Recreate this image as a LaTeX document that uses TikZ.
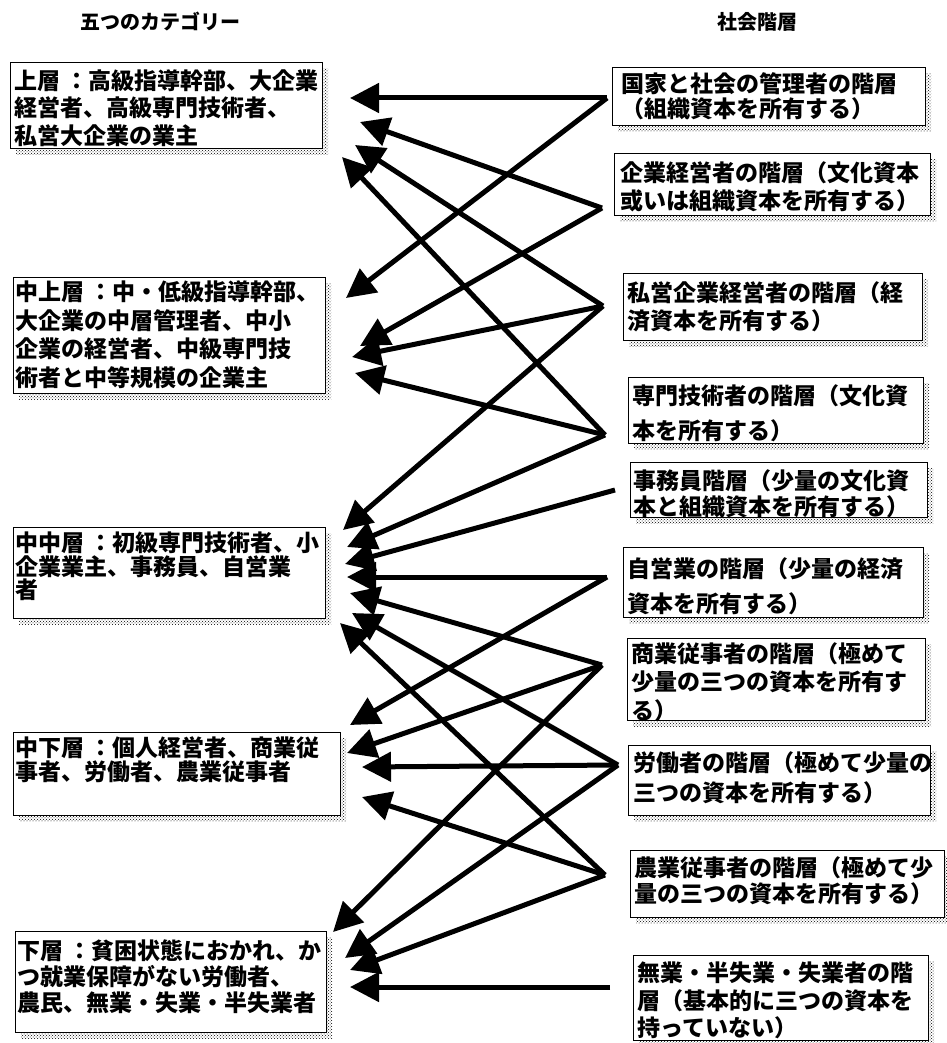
\documentclass[tikz,border=0pt]{standalone}
\usepackage{fontspec}
\setmainfont{Noto Sans CJK JP}
\usetikzlibrary{arrows.meta,patterns}
\tikzset{
  box/.style={draw=black, line width=1.2pt, fill=white, anchor=north west, inner sep=0pt},
  shbox/.style={draw=none, fill=black!55, pattern=crosshatch dots, pattern color=black, anchor=north west, inner sep=0pt},
  txt/.style={anchor=north west, align=left, inner sep=0pt,
    font=\bfseries\fontsize{23}{#1}\selectfont},
  ttl/.style={font=\bfseries\fontsize{20}{24}\selectfont, inner sep=0pt},
  arr/.style={line width=5pt, -{Triangle[length=29pt,width=29pt]}},
}
% #1 name, #2 x, #3 y, #4 width, #5 height
\newcommand{\shadowedbox}[5]{%
  \node[shbox, minimum width=#4pt, minimum height=#5pt] (#1s) at ({#2+6},{#3+6}) {};
  \node[box, minimum width=#4pt, minimum height=#5pt] (#1) at (#2,#3) {};}
\begin{document}
\begin{tikzpicture}[x=1pt,y=-1pt]
\useasboundingbox (0,0) rectangle (946,1043);

% titles
\node[ttl] (T1) at (160,22) {五つのカテゴリー};
\node[ttl] (T2) at (757,22) {社会階層};

% left boxes
\shadowedbox{L1}{10}{62}{312}{86}
\shadowedbox{L2}{13}{277}{312}{116}
\shadowedbox{L3}{13}{527}{312}{91}
\shadowedbox{L4}{13}{732}{327}{83}
\shadowedbox{L5}{15}{931}{311}{101}

\node[txt=27.5] (L1t) at (14,69) {上層 ：高級指導幹部、大企業\\経営者、高級専門技術者、\\私営大企業の業主};
\node[txt=28.5] (L2t) at (15,281) {中上層 ：中・低級指導幹部、\\大企業の中層管理者、中小\\企業の経営者、中級専門技\\術者と中等規模の企業主};
\node[txt=23.5] (L3t) at (15,532) {中中層 ：初級専門技術者、小\\企業業主、事務員、自営業\\者};
\node[txt=24] (L4t) at (15,737) {中下層 ：個人経営者、商業従\\事者、労働者、農業従事者};
\node[txt=26] (L5t) at (17,939) {下層 ：貧困状態におかれ、か\\つ就業保障がない労働者、\\農民、無業・失業・半失業者};

% right boxes
\shadowedbox{R1}{612}{67}{313}{58}
\shadowedbox{R2}{614}{153}{316}{62}
\shadowedbox{R3}{623}{273}{299}{67}
\shadowedbox{R4}{628}{377}{295}{66}
\shadowedbox{R5}{630}{462}{297}{55}
\shadowedbox{R6}{623}{547}{300}{70}
\shadowedbox{R7}{627}{638}{298}{82}
\shadowedbox{R8}{628}{745}{302}{70}
\shadowedbox{R9}{630}{850}{314}{67}
\shadowedbox{R10}{633}{955}{295}{85}

\node[txt=25] (R1t) at (621,72) {国家と社会の管理者の階層\\（組織資本を所有する）};
\node[txt=28] (R2t) at (620,161) {企業経営者の階層（文化資本\\或いは組織資本を所有する）};
\node[txt=28] (R3t) at (627,281) {私営企業経営者の階層（経\\済資本を所有する）};
\node[txt=35] (R4t) at (632,384) {専門技術者の階層（文化資\\本を所有する）};
\node[txt=26] (R5t) at (633,469) {事務員階層（少量の文化資\\本と組織資本を所有する）};
\node[txt=35] (R6t) at (627,557) {自営業の階層（少量の経済\\資本を所有する）};
\node[txt=28.5] (R7t) at (631,642) {商業従事者の階層（極めて\\少量の三つの資本を所有す\\る）};
\node[txt=30] (R8t) at (633,751) {労働者の階層（極めて少量の\\三つの資本を所有する）};
\node[txt=26] (R9t) at (634,856) {農業従事者の階層（極めて少\\量の三つの資本を所有する）};
\node[txt=27.5] (R10t) at (637,962) {無業・半失業・失業者の階\\層（基本的に三つの資本を\\持っていない）};

% hubs (line starts, left of right boxes)
\coordinate (h1) at (607,98);
\coordinate (h2) at (602,208);
\coordinate (h3) at (603,306);
\coordinate (h4) at (605,435);
\coordinate (h5) at (615,490);
\coordinate (h6) at (607,577);
\coordinate (h7) at (602,665);
\coordinate (h8) at (618,765);
\coordinate (h9) at (605,875);
\coordinate (h10) at (610,987);

% tips near left boxes
\coordinate (a1) at (350,98);
\coordinate (a2) at (360,122);
\coordinate (a3) at (355,145);
\coordinate (a4) at (342,157);
\coordinate (b1) at (346,298);
\coordinate (b2) at (360,346);
\coordinate (b3) at (352,357);
\coordinate (b4) at (355,373);
\coordinate (c3) at (343,530);
\coordinate (c4) at (347,547);
\coordinate (c5) at (345,564);
\coordinate (c6) at (347,577);
\coordinate (c7) at (350,593);
\coordinate (c8) at (352,613);
\coordinate (c9) at (340,623);
\coordinate (d6) at (350,725);
\coordinate (d7) at (347,753);
\coordinate (d8) at (362,767);
\coordinate (d9) at (362,797);
\coordinate (e7) at (333,932);
\coordinate (e8) at (345,958);
\coordinate (e9) at (350,970);
\coordinate (e10) at (350,987);

% connectors
\draw[arr] (h1) -- (a1);
\draw[arr] (h1) -- (b1);
\draw[arr] (h2) -- (a2);
\draw[arr] (h2) -- (b2);
\draw[arr] (h3) -- (a3);
\draw[arr] (h3) -- (b3);
\draw[arr] (h3) -- (c3);
\draw[arr] (h4) -- (a4);
\draw[arr] (h4) -- (b4);
\draw[arr] (h4) -- (c4);
\draw[arr] (h5) -- (c5);
\draw[arr] (h6) -- (c6);
\draw[arr] (h6) -- (d6);
\draw[arr] (h7) -- (c7);
\draw[arr] (h7) -- (d7);
\draw[arr] (h7) -- (e7);
\draw[arr] (h8) -- (c8);
\draw[arr] (h8) -- (d8);
\draw[arr] (h8) -- (e8);
\draw[arr] (h9) -- (c9);
\draw[arr] (h9) -- (d9);
\draw[arr] (h9) -- (e9);
\draw[arr] (h10) -- (e10);
\end{tikzpicture}
\end{document}
